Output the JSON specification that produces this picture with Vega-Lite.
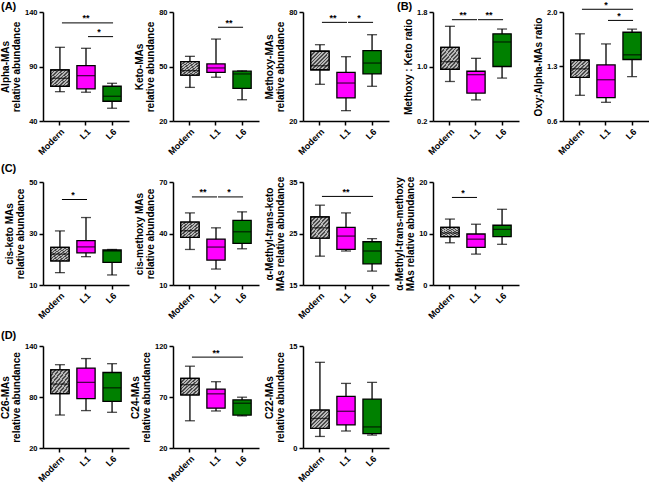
{
"$schema": "https://vega.github.io/schema/vega-lite/v6.json",
"padding": {"left": 0, "top": 0, "right": 0, "bottom": 0},
"background": "white",
"datasets": {
"box": [
{"p":"Alpha","g":"Modern","min":66.9,"q1":71.9,"med":79.2,"q3":86.8,"max":107.6},
{"p":"Alpha","g":"L1","min":66.4,"q1":69.4,"med":81.6,"q3":90.8,"max":106.7},
{"p":"Alpha","g":"L6","min":51.7,"q1":58.1,"med":62.7,"q3":71.9,"max":74.6},
{"p":"Keto","g":"Modern","min":38.5,"q1":45.3,"med":47.7,"q3":52.7,"max":55.6},
{"p":"Keto","g":"L1","min":44.1,"q1":46.8,"med":49.2,"q3":51.4,"max":65.1},
{"p":"Keto","g":"L6","min":31.7,"q1":38.0,"med":45.9,"q3":47.4,"max":47.6},
{"p":"Methoxy","g":"Modern","min":40.2,"q1":48.2,"med":50.4,"q3":58.4,"max":62.0},
{"p":"Methoxy","g":"L1","min":25.7,"q1":32.7,"med":40.9,"q3":46.8,"max":55.4},
{"p":"Methoxy","g":"L6","min":39.1,"q1":45.9,"med":51.9,"q3":58.7,"max":67.5},
{"p":"MK","g":"Modern","min":0.78,"q1":0.96,"med":1.07,"q3":1.28,"max":1.59},
{"p":"MK","g":"L1","min":0.51,"q1":0.61,"med":0.88,"q3":0.93,"max":1.12},
{"p":"MK","g":"L6","min":0.83,"q1":1.0,"med":1.36,"q3":1.48,"max":1.55},
{"p":"OA","g":"Modern","min":0.93,"q1":1.16,"med":1.27,"q3":1.38,"max":1.72},
{"p":"OA","g":"L1","min":0.84,"q1":0.9,"med":1.13,"q3":1.32,"max":1.59},
{"p":"OA","g":"L6","min":1.17,"q1":1.39,"med":1.45,"q3":1.74,"max":1.78},
{"p":"CisK","g":"Modern","min":14.8,"q1":19.4,"med":22.0,"q3":24.6,"max":31.0},
{"p":"CisK","g":"L1","min":21.0,"q1":22.5,"med":24.8,"q3":27.2,"max":36.2},
{"p":"CisK","g":"L6","min":13.9,"q1":18.8,"med":23.2,"q3":23.6,"max":23.8},
{"p":"CisM","g":"Modern","min":30.7,"q1":37.7,"med":41.6,"q3":46.6,"max":52.0},
{"p":"CisM","g":"L1","min":19.3,"q1":24.5,"med":32.1,"q3":36.7,"max":43.3},
{"p":"CisM","g":"L6","min":31.1,"q1":34.2,"med":41.0,"q3":47.7,"max":52.6},
{"p":"TK","g":"Modern","min":20.6,"q1":24.1,"med":26.1,"q3":28.2,"max":30.5},
{"p":"TK","g":"L1","min":21.6,"q1":21.9,"med":24.5,"q3":26.2,"max":29.0},
{"p":"TK","g":"L6","min":17.7,"q1":19.1,"med":21.6,"q3":23.4,"max":24.0},
{"p":"TM","g":"Modern","min":8.2,"q1":9.4,"med":10.1,"q3":11.2,"max":12.8},
{"p":"TM","g":"L1","min":6.0,"q1":7.3,"med":8.9,"q3":9.9,"max":11.8},
{"p":"TM","g":"L6","min":7.9,"q1":9.4,"med":10.8,"q3":11.6,"max":14.7},
{"p":"C26","g":"Modern","min":58.8,"q1":84.0,"med":95.2,"q3":112.0,"max":118.0},
{"p":"C26","g":"L1","min":64.0,"q1":78.0,"med":97.2,"q3":114.0,"max":125.2},
{"p":"C26","g":"L6","min":62.0,"q1":74.8,"med":90.8,"q3":108.8,"max":119.2},
{"p":"C24","g":"Modern","min":46.7,"q1":72.1,"med":82.0,"q3":88.3,"max":100.2},
{"p":"C24","g":"L1","min":56.3,"q1":59.0,"med":73.1,"q3":77.8,"max":85.0},
{"p":"C24","g":"L6","min":51.5,"q1":52.3,"med":63.9,"q3":67.2,"max":69.8},
{"p":"C22","g":"Modern","min":1.7,"q1":2.9,"med":4.35,"q3":5.56,"max":12.6},
{"p":"C22","g":"L1","min":2.5,"q1":3.4,"med":5.4,"q3":7.6,"max":9.5},
{"p":"C22","g":"L6","min":1.9,"q1":2.1,"med":3.1,"q3":7.2,"max":9.65}
],
"sig": [
{"p":"Alpha","from":"Modern","to":"L6","y":130,"s":"**"},
{"p":"Alpha","from":"L1","to":"L6","y":117.4,"s":"*"},
{"p":"Keto","from":"L1","to":"L6","y":71.6,"s":"**"},
{"p":"Methoxy","from":"Modern","to":"L1","y":74.3,"s":"**"},
{"p":"Methoxy","from":"L1","to":"L6","y":74.3,"s":"*"},
{"p":"MK","from":"Modern","to":"L1","y":1.687,"s":"**"},
{"p":"MK","from":"L1","to":"L6","y":1.687,"s":"**"},
{"p":"OA","from":"Modern","to":"L6","y":2.035,"s":"*"},
{"p":"OA","from":"L1","to":"L6","y":1.892,"s":"*"},
{"p":"CisK","from":"Modern","to":"L1","y":43.2,"s":"*"},
{"p":"CisM","from":"Modern","to":"L1","y":61.3,"s":"**"},
{"p":"CisM","from":"L1","to":"L6","y":61.3,"s":"*"},
{"p":"TK","from":"Modern","to":"L6","y":32.2,"s":"**"},
{"p":"TM","from":"Modern","to":"L1","y":17.0,"s":"*"},
{"p":"C24","from":"Modern","to":"L6","y":109.1,"s":"**"}
]
},
"config": {
"font": "Liberation Sans",
"view": {"stroke": null},
"axis": {"domainColor":"#000","domainWidth":1.5,"tickColor":"#000","tickWidth":1.5,"tickSize":4,"labelFontWeight":"bold","labelFontSize":7.5,"labelColor":"#000","titleFontWeight":"bold","titleFontSize":10,"titleColor":"#000","grid":false,"labelPadding":2,"titlePadding":3,"titleLineHeight":11},
"axisX": {"labelAngle":-45,"labelFontSize":9},
"bar": {"stroke":"#000","strokeWidth":1.3},
"rule": {"stroke":"#000","strokeWidth":1.3},
"tick": {"color":"#000","thickness":1.3},
"text": {"fontWeight":"bold","fontSize":9,"baseline":"alphabetic","color":"#000"},
"title": {"fontSize":11,"fontWeight":"bold","color":"#000","anchor":"start","frame":"group"}
},
"columns": 5,
"spacing": {"row": 61, "column": 44},
"bounds": "flush",
"concat": [
{"width":86,"height":109,"title":{"text":"(A)","offset":-4,"dx":-42},
"encoding":{"x":{"field":"g","type":"nominal","title":null,"scale":{"type":"band","domain":["Modern","L1","L6"],"paddingInner":0.3,"paddingOuter":0.3}}},
"layer":[
{"data":{"name":"box"},"transform":[{"filter":"datum.p==='Alpha'"}],"layer":[
{"mark":"rule","encoding":{"y":{"field":"min","type":"quantitative","scale":{"domain":[40,140],"nice":false,"zero":false},"axis":{"values":[40,90,140],"title":["Alpha-MAs","relative abundance"]}},"y2":{"field":"max"}}},
{"mark":"bar","encoding":{"y":{"field":"q1","type":"quantitative","scale":{"domain":[40,140],"nice":false,"zero":false}},"y2":{"field":"q3"},"fill":{"field":"g","type":"nominal","scale":{"domain":["Modern","L1","L6"],"range":["#999999","#ff00ff","#008000"]},"legend":null}}},
{"transform":[{"filter":"datum.g==='Modern'"}],"mark":{"type":"bar","fill":{"gradient":"linear","x1":0,"y1":0,"x2":1,"y2":1,"stops":[{"offset":0,"color":"#4a4a4a"},{"offset":0.045,"color":"#4a4a4a"},{"offset":0.045,"color":"#b8b8b8"},{"offset":0.1,"color":"#b8b8b8"},{"offset":0.1,"color":"#4a4a4a"},{"offset":0.145,"color":"#4a4a4a"},{"offset":0.145,"color":"#b8b8b8"},{"offset":0.2,"color":"#b8b8b8"},{"offset":0.2,"color":"#4a4a4a"},{"offset":0.245,"color":"#4a4a4a"},{"offset":0.245,"color":"#b8b8b8"},{"offset":0.3,"color":"#b8b8b8"},{"offset":0.3,"color":"#4a4a4a"},{"offset":0.345,"color":"#4a4a4a"},{"offset":0.345,"color":"#b8b8b8"},{"offset":0.4,"color":"#b8b8b8"},{"offset":0.4,"color":"#4a4a4a"},{"offset":0.445,"color":"#4a4a4a"},{"offset":0.445,"color":"#b8b8b8"},{"offset":0.5,"color":"#b8b8b8"},{"offset":0.5,"color":"#4a4a4a"},{"offset":0.545,"color":"#4a4a4a"},{"offset":0.545,"color":"#b8b8b8"},{"offset":0.6,"color":"#b8b8b8"},{"offset":0.6,"color":"#4a4a4a"},{"offset":0.645,"color":"#4a4a4a"},{"offset":0.645,"color":"#b8b8b8"},{"offset":0.7,"color":"#b8b8b8"},{"offset":0.7,"color":"#4a4a4a"},{"offset":0.745,"color":"#4a4a4a"},{"offset":0.745,"color":"#b8b8b8"},{"offset":0.8,"color":"#b8b8b8"},{"offset":0.8,"color":"#4a4a4a"},{"offset":0.845,"color":"#4a4a4a"},{"offset":0.845,"color":"#b8b8b8"},{"offset":0.9,"color":"#b8b8b8"},{"offset":0.9,"color":"#4a4a4a"},{"offset":0.945,"color":"#4a4a4a"},{"offset":0.945,"color":"#b8b8b8"},{"offset":1,"color":"#b8b8b8"}]}},"encoding":{"y":{"field":"q1","type":"quantitative","scale":{"domain":[40,140],"nice":false,"zero":false}},"y2":{"field":"q3"}}},
{"transform":[{"fold":["min","med","max"],"as":["k","v"]}],"mark":"tick","encoding":{"y":{"field":"v","type":"quantitative","scale":{"domain":[40,140],"nice":false,"zero":false}},"size":{"condition":{"test":"datum.k==='med'","value":18},"value":10}}}
]},
{"data":{"name":"sig"},"transform":[{"filter":"datum.p==='Alpha'"}],"layer":[
{"mark":{"type":"rule","strokeWidth":1,"xOffset":2,"x2Offset":1},"encoding":{"x":{"field":"from","type":"nominal","title":null},"x2":{"field":"to"},"y":{"field":"y","type":"quantitative","scale":{"domain":[40,140],"nice":false,"zero":false}}}},
{"transform":[{"filter":"datum.from==='Modern'&&datum.to==='L6'"}],"mark":{"type":"text","dy":-1.5},"encoding":{"x":{"datum":"L1","type":"nominal","title":null},"y":{"field":"y","type":"quantitative","scale":{"domain":[40,140],"nice":false,"zero":false}},"text":{"field":"s"}}},
{"transform":[{"filter":"datum.from!=='Modern'||datum.to!=='L6'"}],"mark":{"type":"text","dy":-1.5,"dx":-13},"encoding":{"x":{"field":"to","type":"nominal","title":null},"y":{"field":"y","type":"quantitative","scale":{"domain":[40,140],"nice":false,"zero":false}},"text":{"field":"s"}}}
]}
]},
{"width":86,"height":109,
"encoding":{"x":{"field":"g","type":"nominal","title":null,"scale":{"type":"band","domain":["Modern","L1","L6"],"paddingInner":0.3,"paddingOuter":0.3}}},
"layer":[
{"data":{"name":"box"},"transform":[{"filter":"datum.p==='Keto'"}],"layer":[
{"mark":"rule","encoding":{"y":{"field":"min","type":"quantitative","scale":{"domain":[20,80],"nice":false,"zero":false},"axis":{"values":[20,50,80],"title":["Keto-MAs","relative abundance"]}},"y2":{"field":"max"}}},
{"mark":"bar","encoding":{"y":{"field":"q1","type":"quantitative","scale":{"domain":[20,80],"nice":false,"zero":false}},"y2":{"field":"q3"},"fill":{"field":"g","type":"nominal","scale":{"domain":["Modern","L1","L6"],"range":["#999999","#ff00ff","#008000"]},"legend":null}}},
{"transform":[{"filter":"datum.g==='Modern'"}],"mark":{"type":"bar","fill":{"gradient":"linear","x1":0,"y1":0,"x2":1,"y2":1,"stops":[{"offset":0,"color":"#4a4a4a"},{"offset":0.045,"color":"#4a4a4a"},{"offset":0.045,"color":"#b8b8b8"},{"offset":0.1,"color":"#b8b8b8"},{"offset":0.1,"color":"#4a4a4a"},{"offset":0.145,"color":"#4a4a4a"},{"offset":0.145,"color":"#b8b8b8"},{"offset":0.2,"color":"#b8b8b8"},{"offset":0.2,"color":"#4a4a4a"},{"offset":0.245,"color":"#4a4a4a"},{"offset":0.245,"color":"#b8b8b8"},{"offset":0.3,"color":"#b8b8b8"},{"offset":0.3,"color":"#4a4a4a"},{"offset":0.345,"color":"#4a4a4a"},{"offset":0.345,"color":"#b8b8b8"},{"offset":0.4,"color":"#b8b8b8"},{"offset":0.4,"color":"#4a4a4a"},{"offset":0.445,"color":"#4a4a4a"},{"offset":0.445,"color":"#b8b8b8"},{"offset":0.5,"color":"#b8b8b8"},{"offset":0.5,"color":"#4a4a4a"},{"offset":0.545,"color":"#4a4a4a"},{"offset":0.545,"color":"#b8b8b8"},{"offset":0.6,"color":"#b8b8b8"},{"offset":0.6,"color":"#4a4a4a"},{"offset":0.645,"color":"#4a4a4a"},{"offset":0.645,"color":"#b8b8b8"},{"offset":0.7,"color":"#b8b8b8"},{"offset":0.7,"color":"#4a4a4a"},{"offset":0.745,"color":"#4a4a4a"},{"offset":0.745,"color":"#b8b8b8"},{"offset":0.8,"color":"#b8b8b8"},{"offset":0.8,"color":"#4a4a4a"},{"offset":0.845,"color":"#4a4a4a"},{"offset":0.845,"color":"#b8b8b8"},{"offset":0.9,"color":"#b8b8b8"},{"offset":0.9,"color":"#4a4a4a"},{"offset":0.945,"color":"#4a4a4a"},{"offset":0.945,"color":"#b8b8b8"},{"offset":1,"color":"#b8b8b8"}]}},"encoding":{"y":{"field":"q1","type":"quantitative","scale":{"domain":[20,80],"nice":false,"zero":false}},"y2":{"field":"q3"}}},
{"transform":[{"fold":["min","med","max"],"as":["k","v"]}],"mark":"tick","encoding":{"y":{"field":"v","type":"quantitative","scale":{"domain":[20,80],"nice":false,"zero":false}},"size":{"condition":{"test":"datum.k==='med'","value":18},"value":10}}}
]},
{"data":{"name":"sig"},"transform":[{"filter":"datum.p==='Keto'"}],"layer":[
{"mark":{"type":"rule","strokeWidth":1,"xOffset":2,"x2Offset":1},"encoding":{"x":{"field":"from","type":"nominal","title":null},"x2":{"field":"to"},"y":{"field":"y","type":"quantitative","scale":{"domain":[20,80],"nice":false,"zero":false}}}},
{"transform":[{"filter":"datum.from!=='Modern'||datum.to!=='L6'"}],"mark":{"type":"text","dy":-1.5,"dx":-13},"encoding":{"x":{"field":"to","type":"nominal","title":null},"y":{"field":"y","type":"quantitative","scale":{"domain":[20,80],"nice":false,"zero":false}},"text":{"field":"s"}}}
]}
]},
{"width":86,"height":109,
"encoding":{"x":{"field":"g","type":"nominal","title":null,"scale":{"type":"band","domain":["Modern","L1","L6"],"paddingInner":0.3,"paddingOuter":0.3}}},
"layer":[
{"data":{"name":"box"},"transform":[{"filter":"datum.p==='Methoxy'"}],"layer":[
{"mark":"rule","encoding":{"y":{"field":"min","type":"quantitative","scale":{"domain":[20,80],"nice":false,"zero":false},"axis":{"values":[20,40,60,80],"title":["Methoxy-MAs","relative abundance"]}},"y2":{"field":"max"}}},
{"mark":"bar","encoding":{"y":{"field":"q1","type":"quantitative","scale":{"domain":[20,80],"nice":false,"zero":false}},"y2":{"field":"q3"},"fill":{"field":"g","type":"nominal","scale":{"domain":["Modern","L1","L6"],"range":["#999999","#ff00ff","#008000"]},"legend":null}}},
{"transform":[{"filter":"datum.g==='Modern'"}],"mark":{"type":"bar","fill":{"gradient":"linear","x1":0,"y1":0,"x2":1,"y2":1,"stops":[{"offset":0,"color":"#4a4a4a"},{"offset":0.045,"color":"#4a4a4a"},{"offset":0.045,"color":"#b8b8b8"},{"offset":0.1,"color":"#b8b8b8"},{"offset":0.1,"color":"#4a4a4a"},{"offset":0.145,"color":"#4a4a4a"},{"offset":0.145,"color":"#b8b8b8"},{"offset":0.2,"color":"#b8b8b8"},{"offset":0.2,"color":"#4a4a4a"},{"offset":0.245,"color":"#4a4a4a"},{"offset":0.245,"color":"#b8b8b8"},{"offset":0.3,"color":"#b8b8b8"},{"offset":0.3,"color":"#4a4a4a"},{"offset":0.345,"color":"#4a4a4a"},{"offset":0.345,"color":"#b8b8b8"},{"offset":0.4,"color":"#b8b8b8"},{"offset":0.4,"color":"#4a4a4a"},{"offset":0.445,"color":"#4a4a4a"},{"offset":0.445,"color":"#b8b8b8"},{"offset":0.5,"color":"#b8b8b8"},{"offset":0.5,"color":"#4a4a4a"},{"offset":0.545,"color":"#4a4a4a"},{"offset":0.545,"color":"#b8b8b8"},{"offset":0.6,"color":"#b8b8b8"},{"offset":0.6,"color":"#4a4a4a"},{"offset":0.645,"color":"#4a4a4a"},{"offset":0.645,"color":"#b8b8b8"},{"offset":0.7,"color":"#b8b8b8"},{"offset":0.7,"color":"#4a4a4a"},{"offset":0.745,"color":"#4a4a4a"},{"offset":0.745,"color":"#b8b8b8"},{"offset":0.8,"color":"#b8b8b8"},{"offset":0.8,"color":"#4a4a4a"},{"offset":0.845,"color":"#4a4a4a"},{"offset":0.845,"color":"#b8b8b8"},{"offset":0.9,"color":"#b8b8b8"},{"offset":0.9,"color":"#4a4a4a"},{"offset":0.945,"color":"#4a4a4a"},{"offset":0.945,"color":"#b8b8b8"},{"offset":1,"color":"#b8b8b8"}]}},"encoding":{"y":{"field":"q1","type":"quantitative","scale":{"domain":[20,80],"nice":false,"zero":false}},"y2":{"field":"q3"}}},
{"transform":[{"fold":["min","med","max"],"as":["k","v"]}],"mark":"tick","encoding":{"y":{"field":"v","type":"quantitative","scale":{"domain":[20,80],"nice":false,"zero":false}},"size":{"condition":{"test":"datum.k==='med'","value":18},"value":10}}}
]},
{"data":{"name":"sig"},"transform":[{"filter":"datum.p==='Methoxy'"}],"layer":[
{"mark":{"type":"rule","strokeWidth":1,"xOffset":2,"x2Offset":1},"encoding":{"x":{"field":"from","type":"nominal","title":null},"x2":{"field":"to"},"y":{"field":"y","type":"quantitative","scale":{"domain":[20,80],"nice":false,"zero":false}}}},
{"transform":[{"filter":"datum.from!=='Modern'||datum.to!=='L6'"}],"mark":{"type":"text","dy":-1.5,"dx":-13},"encoding":{"x":{"field":"to","type":"nominal","title":null},"y":{"field":"y","type":"quantitative","scale":{"domain":[20,80],"nice":false,"zero":false}},"text":{"field":"s"}}}
]}
]},
{"width":86,"height":109,"title":{"text":"(B)","offset":-4,"dx":-36},
"encoding":{"x":{"field":"g","type":"nominal","title":null,"scale":{"type":"band","domain":["Modern","L1","L6"],"paddingInner":0.3,"paddingOuter":0.3}}},
"layer":[
{"data":{"name":"box"},"transform":[{"filter":"datum.p==='MK'"}],"layer":[
{"mark":"rule","encoding":{"y":{"field":"min","type":"quantitative","scale":{"domain":[0.2,1.8],"nice":false,"zero":false},"axis":{"values":[0.2,0.6,1.0,1.4,1.8],"format":".1f","title":"Methoxy : Keto ratio"}},"y2":{"field":"max"}}},
{"mark":"bar","encoding":{"y":{"field":"q1","type":"quantitative","scale":{"domain":[0.2,1.8],"nice":false,"zero":false}},"y2":{"field":"q3"},"fill":{"field":"g","type":"nominal","scale":{"domain":["Modern","L1","L6"],"range":["#999999","#ff00ff","#008000"]},"legend":null}}},
{"transform":[{"filter":"datum.g==='Modern'"}],"mark":{"type":"bar","fill":{"gradient":"linear","x1":0,"y1":0,"x2":1,"y2":1,"stops":[{"offset":0,"color":"#4a4a4a"},{"offset":0.045,"color":"#4a4a4a"},{"offset":0.045,"color":"#b8b8b8"},{"offset":0.1,"color":"#b8b8b8"},{"offset":0.1,"color":"#4a4a4a"},{"offset":0.145,"color":"#4a4a4a"},{"offset":0.145,"color":"#b8b8b8"},{"offset":0.2,"color":"#b8b8b8"},{"offset":0.2,"color":"#4a4a4a"},{"offset":0.245,"color":"#4a4a4a"},{"offset":0.245,"color":"#b8b8b8"},{"offset":0.3,"color":"#b8b8b8"},{"offset":0.3,"color":"#4a4a4a"},{"offset":0.345,"color":"#4a4a4a"},{"offset":0.345,"color":"#b8b8b8"},{"offset":0.4,"color":"#b8b8b8"},{"offset":0.4,"color":"#4a4a4a"},{"offset":0.445,"color":"#4a4a4a"},{"offset":0.445,"color":"#b8b8b8"},{"offset":0.5,"color":"#b8b8b8"},{"offset":0.5,"color":"#4a4a4a"},{"offset":0.545,"color":"#4a4a4a"},{"offset":0.545,"color":"#b8b8b8"},{"offset":0.6,"color":"#b8b8b8"},{"offset":0.6,"color":"#4a4a4a"},{"offset":0.645,"color":"#4a4a4a"},{"offset":0.645,"color":"#b8b8b8"},{"offset":0.7,"color":"#b8b8b8"},{"offset":0.7,"color":"#4a4a4a"},{"offset":0.745,"color":"#4a4a4a"},{"offset":0.745,"color":"#b8b8b8"},{"offset":0.8,"color":"#b8b8b8"},{"offset":0.8,"color":"#4a4a4a"},{"offset":0.845,"color":"#4a4a4a"},{"offset":0.845,"color":"#b8b8b8"},{"offset":0.9,"color":"#b8b8b8"},{"offset":0.9,"color":"#4a4a4a"},{"offset":0.945,"color":"#4a4a4a"},{"offset":0.945,"color":"#b8b8b8"},{"offset":1,"color":"#b8b8b8"}]}},"encoding":{"y":{"field":"q1","type":"quantitative","scale":{"domain":[0.2,1.8],"nice":false,"zero":false}},"y2":{"field":"q3"}}},
{"transform":[{"fold":["min","med","max"],"as":["k","v"]}],"mark":"tick","encoding":{"y":{"field":"v","type":"quantitative","scale":{"domain":[0.2,1.8],"nice":false,"zero":false}},"size":{"condition":{"test":"datum.k==='med'","value":18},"value":10}}}
]},
{"data":{"name":"sig"},"transform":[{"filter":"datum.p==='MK'"}],"layer":[
{"mark":{"type":"rule","strokeWidth":1,"xOffset":2,"x2Offset":1},"encoding":{"x":{"field":"from","type":"nominal","title":null},"x2":{"field":"to"},"y":{"field":"y","type":"quantitative","scale":{"domain":[0.2,1.8],"nice":false,"zero":false}}}},
{"transform":[{"filter":"datum.from!=='Modern'||datum.to!=='L6'"}],"mark":{"type":"text","dy":-1.5,"dx":-13},"encoding":{"x":{"field":"to","type":"nominal","title":null},"y":{"field":"y","type":"quantitative","scale":{"domain":[0.2,1.8],"nice":false,"zero":false}},"text":{"field":"s"}}}
]}
]},
{"width":86,"height":109,
"encoding":{"x":{"field":"g","type":"nominal","title":null,"scale":{"type":"band","domain":["Modern","L1","L6"],"paddingInner":0.3,"paddingOuter":0.3}}},
"layer":[
{"data":{"name":"box"},"transform":[{"filter":"datum.p==='OA'"}],"layer":[
{"mark":"rule","encoding":{"y":{"field":"min","type":"quantitative","scale":{"domain":[0.6,2.0],"nice":false,"zero":false},"axis":{"values":[0.6,1.3,2.0],"format":".1f","title":"Oxy:Alpha-MAs ratio"}},"y2":{"field":"max"}}},
{"mark":"bar","encoding":{"y":{"field":"q1","type":"quantitative","scale":{"domain":[0.6,2.0],"nice":false,"zero":false}},"y2":{"field":"q3"},"fill":{"field":"g","type":"nominal","scale":{"domain":["Modern","L1","L6"],"range":["#999999","#ff00ff","#008000"]},"legend":null}}},
{"transform":[{"filter":"datum.g==='Modern'"}],"mark":{"type":"bar","fill":{"gradient":"linear","x1":0,"y1":0,"x2":1,"y2":1,"stops":[{"offset":0,"color":"#4a4a4a"},{"offset":0.045,"color":"#4a4a4a"},{"offset":0.045,"color":"#b8b8b8"},{"offset":0.1,"color":"#b8b8b8"},{"offset":0.1,"color":"#4a4a4a"},{"offset":0.145,"color":"#4a4a4a"},{"offset":0.145,"color":"#b8b8b8"},{"offset":0.2,"color":"#b8b8b8"},{"offset":0.2,"color":"#4a4a4a"},{"offset":0.245,"color":"#4a4a4a"},{"offset":0.245,"color":"#b8b8b8"},{"offset":0.3,"color":"#b8b8b8"},{"offset":0.3,"color":"#4a4a4a"},{"offset":0.345,"color":"#4a4a4a"},{"offset":0.345,"color":"#b8b8b8"},{"offset":0.4,"color":"#b8b8b8"},{"offset":0.4,"color":"#4a4a4a"},{"offset":0.445,"color":"#4a4a4a"},{"offset":0.445,"color":"#b8b8b8"},{"offset":0.5,"color":"#b8b8b8"},{"offset":0.5,"color":"#4a4a4a"},{"offset":0.545,"color":"#4a4a4a"},{"offset":0.545,"color":"#b8b8b8"},{"offset":0.6,"color":"#b8b8b8"},{"offset":0.6,"color":"#4a4a4a"},{"offset":0.645,"color":"#4a4a4a"},{"offset":0.645,"color":"#b8b8b8"},{"offset":0.7,"color":"#b8b8b8"},{"offset":0.7,"color":"#4a4a4a"},{"offset":0.745,"color":"#4a4a4a"},{"offset":0.745,"color":"#b8b8b8"},{"offset":0.8,"color":"#b8b8b8"},{"offset":0.8,"color":"#4a4a4a"},{"offset":0.845,"color":"#4a4a4a"},{"offset":0.845,"color":"#b8b8b8"},{"offset":0.9,"color":"#b8b8b8"},{"offset":0.9,"color":"#4a4a4a"},{"offset":0.945,"color":"#4a4a4a"},{"offset":0.945,"color":"#b8b8b8"},{"offset":1,"color":"#b8b8b8"}]}},"encoding":{"y":{"field":"q1","type":"quantitative","scale":{"domain":[0.6,2.0],"nice":false,"zero":false}},"y2":{"field":"q3"}}},
{"transform":[{"fold":["min","med","max"],"as":["k","v"]}],"mark":"tick","encoding":{"y":{"field":"v","type":"quantitative","scale":{"domain":[0.6,2.0],"nice":false,"zero":false}},"size":{"condition":{"test":"datum.k==='med'","value":18},"value":10}}}
]},
{"data":{"name":"sig"},"transform":[{"filter":"datum.p==='OA'"}],"layer":[
{"mark":{"type":"rule","strokeWidth":1,"xOffset":2,"x2Offset":1},"encoding":{"x":{"field":"from","type":"nominal","title":null},"x2":{"field":"to"},"y":{"field":"y","type":"quantitative","scale":{"domain":[0.6,2.0],"nice":false,"zero":false}}}},
{"transform":[{"filter":"datum.from==='Modern'&&datum.to==='L6'"}],"mark":{"type":"text","dy":-1.5},"encoding":{"x":{"datum":"L1","type":"nominal","title":null},"y":{"field":"y","type":"quantitative","scale":{"domain":[0.6,2.0],"nice":false,"zero":false}},"text":{"field":"s"}}},
{"transform":[{"filter":"datum.from!=='Modern'||datum.to!=='L6'"}],"mark":{"type":"text","dy":-1.5,"dx":-13},"encoding":{"x":{"field":"to","type":"nominal","title":null},"y":{"field":"y","type":"quantitative","scale":{"domain":[0.6,2.0],"nice":false,"zero":false}},"text":{"field":"s"}}}
]}
]},
{"width":86,"height":103,"title":{"text":"(C)","offset":4,"dx":-42},
"encoding":{"x":{"field":"g","type":"nominal","title":null,"scale":{"type":"band","domain":["Modern","L1","L6"],"paddingInner":0.3,"paddingOuter":0.3}}},
"layer":[
{"data":{"name":"box"},"transform":[{"filter":"datum.p==='CisK'"}],"layer":[
{"mark":"rule","encoding":{"y":{"field":"min","type":"quantitative","scale":{"domain":[10,50],"nice":false,"zero":false},"axis":{"values":[10,30,50],"title":["cis-keto MAs","relative abundance"]}},"y2":{"field":"max"}}},
{"mark":"bar","encoding":{"y":{"field":"q1","type":"quantitative","scale":{"domain":[10,50],"nice":false,"zero":false}},"y2":{"field":"q3"},"fill":{"field":"g","type":"nominal","scale":{"domain":["Modern","L1","L6"],"range":["#999999","#ff00ff","#008000"]},"legend":null}}},
{"transform":[{"filter":"datum.g==='Modern'"}],"mark":{"type":"bar","fill":{"gradient":"linear","x1":0,"y1":0,"x2":1,"y2":1,"stops":[{"offset":0,"color":"#4a4a4a"},{"offset":0.045,"color":"#4a4a4a"},{"offset":0.045,"color":"#b8b8b8"},{"offset":0.1,"color":"#b8b8b8"},{"offset":0.1,"color":"#4a4a4a"},{"offset":0.145,"color":"#4a4a4a"},{"offset":0.145,"color":"#b8b8b8"},{"offset":0.2,"color":"#b8b8b8"},{"offset":0.2,"color":"#4a4a4a"},{"offset":0.245,"color":"#4a4a4a"},{"offset":0.245,"color":"#b8b8b8"},{"offset":0.3,"color":"#b8b8b8"},{"offset":0.3,"color":"#4a4a4a"},{"offset":0.345,"color":"#4a4a4a"},{"offset":0.345,"color":"#b8b8b8"},{"offset":0.4,"color":"#b8b8b8"},{"offset":0.4,"color":"#4a4a4a"},{"offset":0.445,"color":"#4a4a4a"},{"offset":0.445,"color":"#b8b8b8"},{"offset":0.5,"color":"#b8b8b8"},{"offset":0.5,"color":"#4a4a4a"},{"offset":0.545,"color":"#4a4a4a"},{"offset":0.545,"color":"#b8b8b8"},{"offset":0.6,"color":"#b8b8b8"},{"offset":0.6,"color":"#4a4a4a"},{"offset":0.645,"color":"#4a4a4a"},{"offset":0.645,"color":"#b8b8b8"},{"offset":0.7,"color":"#b8b8b8"},{"offset":0.7,"color":"#4a4a4a"},{"offset":0.745,"color":"#4a4a4a"},{"offset":0.745,"color":"#b8b8b8"},{"offset":0.8,"color":"#b8b8b8"},{"offset":0.8,"color":"#4a4a4a"},{"offset":0.845,"color":"#4a4a4a"},{"offset":0.845,"color":"#b8b8b8"},{"offset":0.9,"color":"#b8b8b8"},{"offset":0.9,"color":"#4a4a4a"},{"offset":0.945,"color":"#4a4a4a"},{"offset":0.945,"color":"#b8b8b8"},{"offset":1,"color":"#b8b8b8"}]}},"encoding":{"y":{"field":"q1","type":"quantitative","scale":{"domain":[10,50],"nice":false,"zero":false}},"y2":{"field":"q3"}}},
{"transform":[{"fold":["min","med","max"],"as":["k","v"]}],"mark":"tick","encoding":{"y":{"field":"v","type":"quantitative","scale":{"domain":[10,50],"nice":false,"zero":false}},"size":{"condition":{"test":"datum.k==='med'","value":18},"value":10}}}
]},
{"data":{"name":"sig"},"transform":[{"filter":"datum.p==='CisK'"}],"layer":[
{"mark":{"type":"rule","strokeWidth":1,"xOffset":2,"x2Offset":1},"encoding":{"x":{"field":"from","type":"nominal","title":null},"x2":{"field":"to"},"y":{"field":"y","type":"quantitative","scale":{"domain":[10,50],"nice":false,"zero":false}}}},
{"transform":[{"filter":"datum.from!=='Modern'||datum.to!=='L6'"}],"mark":{"type":"text","dy":-1.5,"dx":-13},"encoding":{"x":{"field":"to","type":"nominal","title":null},"y":{"field":"y","type":"quantitative","scale":{"domain":[10,50],"nice":false,"zero":false}},"text":{"field":"s"}}}
]}
]},
{"width":86,"height":103,
"encoding":{"x":{"field":"g","type":"nominal","title":null,"scale":{"type":"band","domain":["Modern","L1","L6"],"paddingInner":0.3,"paddingOuter":0.3}}},
"layer":[
{"data":{"name":"box"},"transform":[{"filter":"datum.p==='CisM'"}],"layer":[
{"mark":"rule","encoding":{"y":{"field":"min","type":"quantitative","scale":{"domain":[10,70],"nice":false,"zero":false},"axis":{"values":[10,40,70],"title":["cis-methoxy MAs","relative abundance"]}},"y2":{"field":"max"}}},
{"mark":"bar","encoding":{"y":{"field":"q1","type":"quantitative","scale":{"domain":[10,70],"nice":false,"zero":false}},"y2":{"field":"q3"},"fill":{"field":"g","type":"nominal","scale":{"domain":["Modern","L1","L6"],"range":["#999999","#ff00ff","#008000"]},"legend":null}}},
{"transform":[{"filter":"datum.g==='Modern'"}],"mark":{"type":"bar","fill":{"gradient":"linear","x1":0,"y1":0,"x2":1,"y2":1,"stops":[{"offset":0,"color":"#4a4a4a"},{"offset":0.045,"color":"#4a4a4a"},{"offset":0.045,"color":"#b8b8b8"},{"offset":0.1,"color":"#b8b8b8"},{"offset":0.1,"color":"#4a4a4a"},{"offset":0.145,"color":"#4a4a4a"},{"offset":0.145,"color":"#b8b8b8"},{"offset":0.2,"color":"#b8b8b8"},{"offset":0.2,"color":"#4a4a4a"},{"offset":0.245,"color":"#4a4a4a"},{"offset":0.245,"color":"#b8b8b8"},{"offset":0.3,"color":"#b8b8b8"},{"offset":0.3,"color":"#4a4a4a"},{"offset":0.345,"color":"#4a4a4a"},{"offset":0.345,"color":"#b8b8b8"},{"offset":0.4,"color":"#b8b8b8"},{"offset":0.4,"color":"#4a4a4a"},{"offset":0.445,"color":"#4a4a4a"},{"offset":0.445,"color":"#b8b8b8"},{"offset":0.5,"color":"#b8b8b8"},{"offset":0.5,"color":"#4a4a4a"},{"offset":0.545,"color":"#4a4a4a"},{"offset":0.545,"color":"#b8b8b8"},{"offset":0.6,"color":"#b8b8b8"},{"offset":0.6,"color":"#4a4a4a"},{"offset":0.645,"color":"#4a4a4a"},{"offset":0.645,"color":"#b8b8b8"},{"offset":0.7,"color":"#b8b8b8"},{"offset":0.7,"color":"#4a4a4a"},{"offset":0.745,"color":"#4a4a4a"},{"offset":0.745,"color":"#b8b8b8"},{"offset":0.8,"color":"#b8b8b8"},{"offset":0.8,"color":"#4a4a4a"},{"offset":0.845,"color":"#4a4a4a"},{"offset":0.845,"color":"#b8b8b8"},{"offset":0.9,"color":"#b8b8b8"},{"offset":0.9,"color":"#4a4a4a"},{"offset":0.945,"color":"#4a4a4a"},{"offset":0.945,"color":"#b8b8b8"},{"offset":1,"color":"#b8b8b8"}]}},"encoding":{"y":{"field":"q1","type":"quantitative","scale":{"domain":[10,70],"nice":false,"zero":false}},"y2":{"field":"q3"}}},
{"transform":[{"fold":["min","med","max"],"as":["k","v"]}],"mark":"tick","encoding":{"y":{"field":"v","type":"quantitative","scale":{"domain":[10,70],"nice":false,"zero":false}},"size":{"condition":{"test":"datum.k==='med'","value":18},"value":10}}}
]},
{"data":{"name":"sig"},"transform":[{"filter":"datum.p==='CisM'"}],"layer":[
{"mark":{"type":"rule","strokeWidth":1,"xOffset":2,"x2Offset":1},"encoding":{"x":{"field":"from","type":"nominal","title":null},"x2":{"field":"to"},"y":{"field":"y","type":"quantitative","scale":{"domain":[10,70],"nice":false,"zero":false}}}},
{"transform":[{"filter":"datum.from!=='Modern'||datum.to!=='L6'"}],"mark":{"type":"text","dy":-1.5,"dx":-13},"encoding":{"x":{"field":"to","type":"nominal","title":null},"y":{"field":"y","type":"quantitative","scale":{"domain":[10,70],"nice":false,"zero":false}},"text":{"field":"s"}}}
]}
]},
{"width":86,"height":103,
"encoding":{"x":{"field":"g","type":"nominal","title":null,"scale":{"type":"band","domain":["Modern","L1","L6"],"paddingInner":0.3,"paddingOuter":0.3}}},
"layer":[
{"data":{"name":"box"},"transform":[{"filter":"datum.p==='TK'"}],"layer":[
{"mark":"rule","encoding":{"y":{"field":"min","type":"quantitative","scale":{"domain":[15,35],"nice":false,"zero":false},"axis":{"values":[15,25,35],"title":["α-Methyl-trans-keto","MAs relative abundance"]}},"y2":{"field":"max"}}},
{"mark":"bar","encoding":{"y":{"field":"q1","type":"quantitative","scale":{"domain":[15,35],"nice":false,"zero":false}},"y2":{"field":"q3"},"fill":{"field":"g","type":"nominal","scale":{"domain":["Modern","L1","L6"],"range":["#999999","#ff00ff","#008000"]},"legend":null}}},
{"transform":[{"filter":"datum.g==='Modern'"}],"mark":{"type":"bar","fill":{"gradient":"linear","x1":0,"y1":0,"x2":1,"y2":1,"stops":[{"offset":0,"color":"#4a4a4a"},{"offset":0.045,"color":"#4a4a4a"},{"offset":0.045,"color":"#b8b8b8"},{"offset":0.1,"color":"#b8b8b8"},{"offset":0.1,"color":"#4a4a4a"},{"offset":0.145,"color":"#4a4a4a"},{"offset":0.145,"color":"#b8b8b8"},{"offset":0.2,"color":"#b8b8b8"},{"offset":0.2,"color":"#4a4a4a"},{"offset":0.245,"color":"#4a4a4a"},{"offset":0.245,"color":"#b8b8b8"},{"offset":0.3,"color":"#b8b8b8"},{"offset":0.3,"color":"#4a4a4a"},{"offset":0.345,"color":"#4a4a4a"},{"offset":0.345,"color":"#b8b8b8"},{"offset":0.4,"color":"#b8b8b8"},{"offset":0.4,"color":"#4a4a4a"},{"offset":0.445,"color":"#4a4a4a"},{"offset":0.445,"color":"#b8b8b8"},{"offset":0.5,"color":"#b8b8b8"},{"offset":0.5,"color":"#4a4a4a"},{"offset":0.545,"color":"#4a4a4a"},{"offset":0.545,"color":"#b8b8b8"},{"offset":0.6,"color":"#b8b8b8"},{"offset":0.6,"color":"#4a4a4a"},{"offset":0.645,"color":"#4a4a4a"},{"offset":0.645,"color":"#b8b8b8"},{"offset":0.7,"color":"#b8b8b8"},{"offset":0.7,"color":"#4a4a4a"},{"offset":0.745,"color":"#4a4a4a"},{"offset":0.745,"color":"#b8b8b8"},{"offset":0.8,"color":"#b8b8b8"},{"offset":0.8,"color":"#4a4a4a"},{"offset":0.845,"color":"#4a4a4a"},{"offset":0.845,"color":"#b8b8b8"},{"offset":0.9,"color":"#b8b8b8"},{"offset":0.9,"color":"#4a4a4a"},{"offset":0.945,"color":"#4a4a4a"},{"offset":0.945,"color":"#b8b8b8"},{"offset":1,"color":"#b8b8b8"}]}},"encoding":{"y":{"field":"q1","type":"quantitative","scale":{"domain":[15,35],"nice":false,"zero":false}},"y2":{"field":"q3"}}},
{"transform":[{"fold":["min","med","max"],"as":["k","v"]}],"mark":"tick","encoding":{"y":{"field":"v","type":"quantitative","scale":{"domain":[15,35],"nice":false,"zero":false}},"size":{"condition":{"test":"datum.k==='med'","value":18},"value":10}}}
]},
{"data":{"name":"sig"},"transform":[{"filter":"datum.p==='TK'"}],"layer":[
{"mark":{"type":"rule","strokeWidth":1,"xOffset":2,"x2Offset":1},"encoding":{"x":{"field":"from","type":"nominal","title":null},"x2":{"field":"to"},"y":{"field":"y","type":"quantitative","scale":{"domain":[15,35],"nice":false,"zero":false}}}},
{"transform":[{"filter":"datum.from==='Modern'&&datum.to==='L6'"}],"mark":{"type":"text","dy":-1.5},"encoding":{"x":{"datum":"L1","type":"nominal","title":null},"y":{"field":"y","type":"quantitative","scale":{"domain":[15,35],"nice":false,"zero":false}},"text":{"field":"s"}}}
]}
]},
{"width":86,"height":103,
"encoding":{"x":{"field":"g","type":"nominal","title":null,"scale":{"type":"band","domain":["Modern","L1","L6"],"paddingInner":0.3,"paddingOuter":0.3}}},
"layer":[
{"data":{"name":"box"},"transform":[{"filter":"datum.p==='TM'"}],"layer":[
{"mark":"rule","encoding":{"y":{"field":"min","type":"quantitative","scale":{"domain":[0,20],"nice":false,"zero":false},"axis":{"values":[0,10,20],"title":["α-Methyl-trans-methoxy","MAs relative abundance"]}},"y2":{"field":"max"}}},
{"mark":"bar","encoding":{"y":{"field":"q1","type":"quantitative","scale":{"domain":[0,20],"nice":false,"zero":false}},"y2":{"field":"q3"},"fill":{"field":"g","type":"nominal","scale":{"domain":["Modern","L1","L6"],"range":["#999999","#ff00ff","#008000"]},"legend":null}}},
{"transform":[{"filter":"datum.g==='Modern'"}],"mark":{"type":"bar","fill":{"gradient":"linear","x1":0,"y1":0,"x2":1,"y2":1,"stops":[{"offset":0,"color":"#4a4a4a"},{"offset":0.045,"color":"#4a4a4a"},{"offset":0.045,"color":"#b8b8b8"},{"offset":0.1,"color":"#b8b8b8"},{"offset":0.1,"color":"#4a4a4a"},{"offset":0.145,"color":"#4a4a4a"},{"offset":0.145,"color":"#b8b8b8"},{"offset":0.2,"color":"#b8b8b8"},{"offset":0.2,"color":"#4a4a4a"},{"offset":0.245,"color":"#4a4a4a"},{"offset":0.245,"color":"#b8b8b8"},{"offset":0.3,"color":"#b8b8b8"},{"offset":0.3,"color":"#4a4a4a"},{"offset":0.345,"color":"#4a4a4a"},{"offset":0.345,"color":"#b8b8b8"},{"offset":0.4,"color":"#b8b8b8"},{"offset":0.4,"color":"#4a4a4a"},{"offset":0.445,"color":"#4a4a4a"},{"offset":0.445,"color":"#b8b8b8"},{"offset":0.5,"color":"#b8b8b8"},{"offset":0.5,"color":"#4a4a4a"},{"offset":0.545,"color":"#4a4a4a"},{"offset":0.545,"color":"#b8b8b8"},{"offset":0.6,"color":"#b8b8b8"},{"offset":0.6,"color":"#4a4a4a"},{"offset":0.645,"color":"#4a4a4a"},{"offset":0.645,"color":"#b8b8b8"},{"offset":0.7,"color":"#b8b8b8"},{"offset":0.7,"color":"#4a4a4a"},{"offset":0.745,"color":"#4a4a4a"},{"offset":0.745,"color":"#b8b8b8"},{"offset":0.8,"color":"#b8b8b8"},{"offset":0.8,"color":"#4a4a4a"},{"offset":0.845,"color":"#4a4a4a"},{"offset":0.845,"color":"#b8b8b8"},{"offset":0.9,"color":"#b8b8b8"},{"offset":0.9,"color":"#4a4a4a"},{"offset":0.945,"color":"#4a4a4a"},{"offset":0.945,"color":"#b8b8b8"},{"offset":1,"color":"#b8b8b8"}]}},"encoding":{"y":{"field":"q1","type":"quantitative","scale":{"domain":[0,20],"nice":false,"zero":false}},"y2":{"field":"q3"}}},
{"transform":[{"fold":["min","med","max"],"as":["k","v"]}],"mark":"tick","encoding":{"y":{"field":"v","type":"quantitative","scale":{"domain":[0,20],"nice":false,"zero":false}},"size":{"condition":{"test":"datum.k==='med'","value":18},"value":10}}}
]},
{"data":{"name":"sig"},"transform":[{"filter":"datum.p==='TM'"}],"layer":[
{"mark":{"type":"rule","strokeWidth":1,"xOffset":2,"x2Offset":1},"encoding":{"x":{"field":"from","type":"nominal","title":null},"x2":{"field":"to"},"y":{"field":"y","type":"quantitative","scale":{"domain":[0,20],"nice":false,"zero":false}}}},
{"transform":[{"filter":"datum.from!=='Modern'||datum.to!=='L6'"}],"mark":{"type":"text","dy":-1.5,"dx":-13},"encoding":{"x":{"field":"to","type":"nominal","title":null},"y":{"field":"y","type":"quantitative","scale":{"domain":[0,20],"nice":false,"zero":false}},"text":{"field":"s"}}}
]}
]},
{"width":86,"height":103,"data":{"values":[]},"mark":"point","encoding":{}},
{"width":86,"height":102,"title":{"text":"(D)","offset":1,"dx":-42},
"encoding":{"x":{"field":"g","type":"nominal","title":null,"scale":{"type":"band","domain":["Modern","L1","L6"],"paddingInner":0.3,"paddingOuter":0.3}}},
"layer":[
{"data":{"name":"box"},"transform":[{"filter":"datum.p==='C26'"}],"layer":[
{"mark":"rule","encoding":{"y":{"field":"min","type":"quantitative","scale":{"domain":[20,140],"nice":false,"zero":false},"axis":{"values":[20,80,140],"title":["C26-MAs","relative abundance"]}},"y2":{"field":"max"}}},
{"mark":"bar","encoding":{"y":{"field":"q1","type":"quantitative","scale":{"domain":[20,140],"nice":false,"zero":false}},"y2":{"field":"q3"},"fill":{"field":"g","type":"nominal","scale":{"domain":["Modern","L1","L6"],"range":["#999999","#ff00ff","#008000"]},"legend":null}}},
{"transform":[{"filter":"datum.g==='Modern'"}],"mark":{"type":"bar","fill":{"gradient":"linear","x1":0,"y1":0,"x2":1,"y2":1,"stops":[{"offset":0,"color":"#4a4a4a"},{"offset":0.045,"color":"#4a4a4a"},{"offset":0.045,"color":"#b8b8b8"},{"offset":0.1,"color":"#b8b8b8"},{"offset":0.1,"color":"#4a4a4a"},{"offset":0.145,"color":"#4a4a4a"},{"offset":0.145,"color":"#b8b8b8"},{"offset":0.2,"color":"#b8b8b8"},{"offset":0.2,"color":"#4a4a4a"},{"offset":0.245,"color":"#4a4a4a"},{"offset":0.245,"color":"#b8b8b8"},{"offset":0.3,"color":"#b8b8b8"},{"offset":0.3,"color":"#4a4a4a"},{"offset":0.345,"color":"#4a4a4a"},{"offset":0.345,"color":"#b8b8b8"},{"offset":0.4,"color":"#b8b8b8"},{"offset":0.4,"color":"#4a4a4a"},{"offset":0.445,"color":"#4a4a4a"},{"offset":0.445,"color":"#b8b8b8"},{"offset":0.5,"color":"#b8b8b8"},{"offset":0.5,"color":"#4a4a4a"},{"offset":0.545,"color":"#4a4a4a"},{"offset":0.545,"color":"#b8b8b8"},{"offset":0.6,"color":"#b8b8b8"},{"offset":0.6,"color":"#4a4a4a"},{"offset":0.645,"color":"#4a4a4a"},{"offset":0.645,"color":"#b8b8b8"},{"offset":0.7,"color":"#b8b8b8"},{"offset":0.7,"color":"#4a4a4a"},{"offset":0.745,"color":"#4a4a4a"},{"offset":0.745,"color":"#b8b8b8"},{"offset":0.8,"color":"#b8b8b8"},{"offset":0.8,"color":"#4a4a4a"},{"offset":0.845,"color":"#4a4a4a"},{"offset":0.845,"color":"#b8b8b8"},{"offset":0.9,"color":"#b8b8b8"},{"offset":0.9,"color":"#4a4a4a"},{"offset":0.945,"color":"#4a4a4a"},{"offset":0.945,"color":"#b8b8b8"},{"offset":1,"color":"#b8b8b8"}]}},"encoding":{"y":{"field":"q1","type":"quantitative","scale":{"domain":[20,140],"nice":false,"zero":false}},"y2":{"field":"q3"}}},
{"transform":[{"fold":["min","med","max"],"as":["k","v"]}],"mark":"tick","encoding":{"y":{"field":"v","type":"quantitative","scale":{"domain":[20,140],"nice":false,"zero":false}},"size":{"condition":{"test":"datum.k==='med'","value":18},"value":10}}}
]}
]},
{"width":86,"height":102,
"encoding":{"x":{"field":"g","type":"nominal","title":null,"scale":{"type":"band","domain":["Modern","L1","L6"],"paddingInner":0.3,"paddingOuter":0.3}}},
"layer":[
{"data":{"name":"box"},"transform":[{"filter":"datum.p==='C24'"}],"layer":[
{"mark":"rule","encoding":{"y":{"field":"min","type":"quantitative","scale":{"domain":[20,120],"nice":false,"zero":false},"axis":{"values":[20,70,120],"title":["C24-MAs","relative abundance"]}},"y2":{"field":"max"}}},
{"mark":"bar","encoding":{"y":{"field":"q1","type":"quantitative","scale":{"domain":[20,120],"nice":false,"zero":false}},"y2":{"field":"q3"},"fill":{"field":"g","type":"nominal","scale":{"domain":["Modern","L1","L6"],"range":["#999999","#ff00ff","#008000"]},"legend":null}}},
{"transform":[{"filter":"datum.g==='Modern'"}],"mark":{"type":"bar","fill":{"gradient":"linear","x1":0,"y1":0,"x2":1,"y2":1,"stops":[{"offset":0,"color":"#4a4a4a"},{"offset":0.045,"color":"#4a4a4a"},{"offset":0.045,"color":"#b8b8b8"},{"offset":0.1,"color":"#b8b8b8"},{"offset":0.1,"color":"#4a4a4a"},{"offset":0.145,"color":"#4a4a4a"},{"offset":0.145,"color":"#b8b8b8"},{"offset":0.2,"color":"#b8b8b8"},{"offset":0.2,"color":"#4a4a4a"},{"offset":0.245,"color":"#4a4a4a"},{"offset":0.245,"color":"#b8b8b8"},{"offset":0.3,"color":"#b8b8b8"},{"offset":0.3,"color":"#4a4a4a"},{"offset":0.345,"color":"#4a4a4a"},{"offset":0.345,"color":"#b8b8b8"},{"offset":0.4,"color":"#b8b8b8"},{"offset":0.4,"color":"#4a4a4a"},{"offset":0.445,"color":"#4a4a4a"},{"offset":0.445,"color":"#b8b8b8"},{"offset":0.5,"color":"#b8b8b8"},{"offset":0.5,"color":"#4a4a4a"},{"offset":0.545,"color":"#4a4a4a"},{"offset":0.545,"color":"#b8b8b8"},{"offset":0.6,"color":"#b8b8b8"},{"offset":0.6,"color":"#4a4a4a"},{"offset":0.645,"color":"#4a4a4a"},{"offset":0.645,"color":"#b8b8b8"},{"offset":0.7,"color":"#b8b8b8"},{"offset":0.7,"color":"#4a4a4a"},{"offset":0.745,"color":"#4a4a4a"},{"offset":0.745,"color":"#b8b8b8"},{"offset":0.8,"color":"#b8b8b8"},{"offset":0.8,"color":"#4a4a4a"},{"offset":0.845,"color":"#4a4a4a"},{"offset":0.845,"color":"#b8b8b8"},{"offset":0.9,"color":"#b8b8b8"},{"offset":0.9,"color":"#4a4a4a"},{"offset":0.945,"color":"#4a4a4a"},{"offset":0.945,"color":"#b8b8b8"},{"offset":1,"color":"#b8b8b8"}]}},"encoding":{"y":{"field":"q1","type":"quantitative","scale":{"domain":[20,120],"nice":false,"zero":false}},"y2":{"field":"q3"}}},
{"transform":[{"fold":["min","med","max"],"as":["k","v"]}],"mark":"tick","encoding":{"y":{"field":"v","type":"quantitative","scale":{"domain":[20,120],"nice":false,"zero":false}},"size":{"condition":{"test":"datum.k==='med'","value":18},"value":10}}}
]},
{"data":{"name":"sig"},"transform":[{"filter":"datum.p==='C24'"}],"layer":[
{"mark":{"type":"rule","strokeWidth":1,"xOffset":2,"x2Offset":1},"encoding":{"x":{"field":"from","type":"nominal","title":null},"x2":{"field":"to"},"y":{"field":"y","type":"quantitative","scale":{"domain":[20,120],"nice":false,"zero":false}}}},
{"transform":[{"filter":"datum.from==='Modern'&&datum.to==='L6'"}],"mark":{"type":"text","dy":-1.5},"encoding":{"x":{"datum":"L1","type":"nominal","title":null},"y":{"field":"y","type":"quantitative","scale":{"domain":[20,120],"nice":false,"zero":false}},"text":{"field":"s"}}}
]}
]},
{"width":86,"height":102,
"encoding":{"x":{"field":"g","type":"nominal","title":null,"scale":{"type":"band","domain":["Modern","L1","L6"],"paddingInner":0.3,"paddingOuter":0.3}}},
"layer":[
{"data":{"name":"box"},"transform":[{"filter":"datum.p==='C22'"}],"layer":[
{"mark":"rule","encoding":{"y":{"field":"min","type":"quantitative","scale":{"domain":[0,15],"nice":false,"zero":false},"axis":{"values":[0,5,10,15],"title":["C22-MAs","relative abundance"]}},"y2":{"field":"max"}}},
{"mark":"bar","encoding":{"y":{"field":"q1","type":"quantitative","scale":{"domain":[0,15],"nice":false,"zero":false}},"y2":{"field":"q3"},"fill":{"field":"g","type":"nominal","scale":{"domain":["Modern","L1","L6"],"range":["#999999","#ff00ff","#008000"]},"legend":null}}},
{"transform":[{"filter":"datum.g==='Modern'"}],"mark":{"type":"bar","fill":{"gradient":"linear","x1":0,"y1":0,"x2":1,"y2":1,"stops":[{"offset":0,"color":"#4a4a4a"},{"offset":0.045,"color":"#4a4a4a"},{"offset":0.045,"color":"#b8b8b8"},{"offset":0.1,"color":"#b8b8b8"},{"offset":0.1,"color":"#4a4a4a"},{"offset":0.145,"color":"#4a4a4a"},{"offset":0.145,"color":"#b8b8b8"},{"offset":0.2,"color":"#b8b8b8"},{"offset":0.2,"color":"#4a4a4a"},{"offset":0.245,"color":"#4a4a4a"},{"offset":0.245,"color":"#b8b8b8"},{"offset":0.3,"color":"#b8b8b8"},{"offset":0.3,"color":"#4a4a4a"},{"offset":0.345,"color":"#4a4a4a"},{"offset":0.345,"color":"#b8b8b8"},{"offset":0.4,"color":"#b8b8b8"},{"offset":0.4,"color":"#4a4a4a"},{"offset":0.445,"color":"#4a4a4a"},{"offset":0.445,"color":"#b8b8b8"},{"offset":0.5,"color":"#b8b8b8"},{"offset":0.5,"color":"#4a4a4a"},{"offset":0.545,"color":"#4a4a4a"},{"offset":0.545,"color":"#b8b8b8"},{"offset":0.6,"color":"#b8b8b8"},{"offset":0.6,"color":"#4a4a4a"},{"offset":0.645,"color":"#4a4a4a"},{"offset":0.645,"color":"#b8b8b8"},{"offset":0.7,"color":"#b8b8b8"},{"offset":0.7,"color":"#4a4a4a"},{"offset":0.745,"color":"#4a4a4a"},{"offset":0.745,"color":"#b8b8b8"},{"offset":0.8,"color":"#b8b8b8"},{"offset":0.8,"color":"#4a4a4a"},{"offset":0.845,"color":"#4a4a4a"},{"offset":0.845,"color":"#b8b8b8"},{"offset":0.9,"color":"#b8b8b8"},{"offset":0.9,"color":"#4a4a4a"},{"offset":0.945,"color":"#4a4a4a"},{"offset":0.945,"color":"#b8b8b8"},{"offset":1,"color":"#b8b8b8"}]}},"encoding":{"y":{"field":"q1","type":"quantitative","scale":{"domain":[0,15],"nice":false,"zero":false}},"y2":{"field":"q3"}}},
{"transform":[{"fold":["min","med","max"],"as":["k","v"]}],"mark":"tick","encoding":{"y":{"field":"v","type":"quantitative","scale":{"domain":[0,15],"nice":false,"zero":false}},"size":{"condition":{"test":"datum.k==='med'","value":18},"value":10}}}
]}
]}
]
}
